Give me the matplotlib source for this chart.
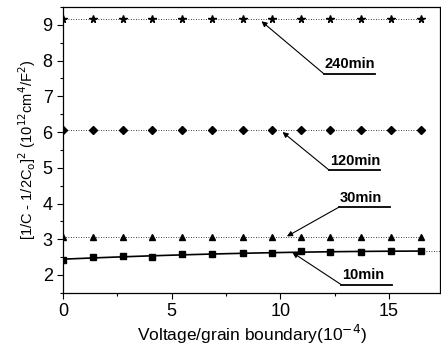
import numpy as np
import matplotlib
matplotlib.use("Agg")
import matplotlib.pyplot as plt
from matplotlib.ticker import MultipleLocator

plt.rcParams['font.family'] = ['Liberation Sans', 'DejaVu Sans']

# voltage per grain boundary (10^-4)
voltage = [0, 1.38, 2.75, 4.1, 5.49, 6.87, 8.27, 9.62, 10.96, 12.3, 13.7, 15.1, 16.45]

y_240 = [9.17, 9.17, 9.17, 9.17, 9.17, 9.17, 9.17, 9.17, 9.17, 9.17, 9.17, 9.17, 9.17]
y_120 = [6.05, 6.05, 6.05, 6.05, 6.05, 6.05, 6.05, 6.05, 6.05, 6.05, 6.05, 6.05, 6.05]
y_30 = [3.06, 3.06, 3.06, 3.06, 3.06, 3.06, 3.06, 3.06, 3.06, 3.06, 3.06, 3.06, 3.06]
y_10 = [2.42, 2.49, 2.54, 2.51, 2.58, 2.58, 2.61, 2.62, 2.66, 2.63, 2.63, 2.68, 2.68]

labels = ["240min", "120min", "30min", "10min"]
# (arrow head xy, text xy) in data coords
arrow_pts = [((9.13, 9.10), (12.0, 7.63)),
             ((10.1, 6.00), (12.25, 4.93)),
             ((10.3, 3.08), (12.7, 3.90)),
             ((10.55, 2.63), (12.8, 1.73))]

fig = plt.figure(figsize=(4.41, 3.47), dpi=100)
ax = fig.add_axes([0.143, 0.156, 0.855, 0.824])

ax.plot(voltage, y_240, color='black', ls=(0, (1, 2)), lw=0.6,
        marker='*', ms=5.5, mfc='black', mec='black')
ax.plot(voltage, y_120, color='black', ls=(0, (1, 2)), lw=0.6,
        marker='D', ms=4, mfc='black', mec='black')
ax.plot(voltage, y_30, color='black', ls=(0, (1, 2)), lw=0.6,
        marker='^', ms=5, mfc='black', mec='black')
ax.plot(voltage, y_10, color='black', ls='none',
        marker='s', ms=4, mfc='black', mec='black')

# fitted curve for the 10 min series
coef = np.polyfit(voltage, y_10, 2)
xf = np.linspace(voltage[0], voltage[-1], 100)
ax.plot(xf, np.polyval(coef, xf), color='black', lw=1.2)
ax.plot([voltage[-1], 17.5], [y_10[-1], y_10[-1]], color='black',
        ls=(0, (1, 2)), lw=0.6)

for lab, (head, tail) in zip(labels, arrow_pts):
    ax.annotate("", xy=head, xytext=tail,
                arrowprops=dict(arrowstyle='-|>', color='black', lw=0.8,
                                mutation_scale=8, shrinkA=0, shrinkB=0))
    ax.text(tail[0] + 0.05, tail[1] + 0.07, lab, fontsize=10.5, fontweight='bold',
            ha='left', va='bottom')
    ax.plot([tail[0], tail[0] + 2.35], [tail[1], tail[1]], color='black', lw=1.3)

ax.set_xlim(0, 17.35)
ax.set_ylim(1.5, 9.5)
ax.xaxis.set_major_locator(MultipleLocator(5))
ax.xaxis.set_minor_locator(MultipleLocator(2.5))
ax.yaxis.set_major_locator(MultipleLocator(1))
ax.yaxis.set_minor_locator(MultipleLocator(0.5))
ax.set_yticks([2, 3, 4, 5, 6, 7, 8, 9])
ax.tick_params(which='major', direction='out', length=4, width=0.8, labelsize=13)
ax.tick_params(which='minor', direction='out', length=2, width=0.8)

ax.set_xlabel(r"Voltage/grain boundary(10$^{-4}$)", fontsize=12.5, labelpad=2)
ax.set_ylabel(r"[1/C - 1/2C$_{\rm o}$]$^2$ (10$^{12}$cm$^4$/F$^2$)", fontsize=10.5, labelpad=3)

for s in ax.spines.values():
    s.set_linewidth(0.9)

fig.savefig("out.png", dpi=100)
